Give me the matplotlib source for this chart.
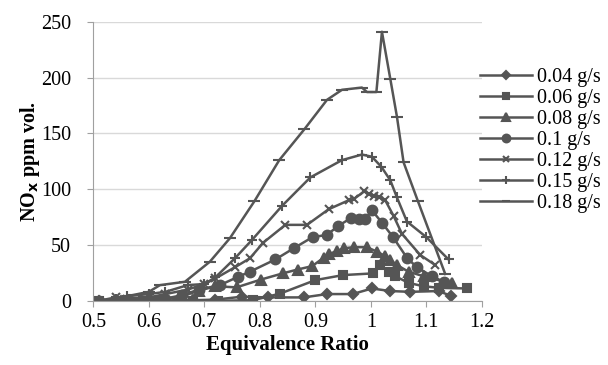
import matplotlib.pyplot as plt

plt.rcParams['font.family'] = ['Liberation Serif', 'DejaVu Serif']

# 0.04 g/s
x004 = [0.51, 0.54, 0.55, 0.56, 0.60, 0.62, 0.65, 0.68, 0.72, 0.767, 0.815, 0.879, 0.921, 0.967, 1.002, 1.035, 1.071, 1.122, 1.144]
y004 = [0, 0, 0, 0, 0, 0, 0, 0.5, 1, 3.6, 3, 3, 6, 6, 11, 8.7, 8, 8.7, 4.5]
# 0.06 g/s
x006 = [0.51, 0.54, 0.55, 0.56, 0.59, 0.61, 0.63, 0.68, 0.725, 0.788, 0.837, 0.90, 0.95, 1.003, 1.017, 1.032, 1.044, 1.068, 1.095, 1.122, 1.173]
y006 = [0, 0, 0, 0, 0, 0, 0, 0, 0, 0.5, 6.5, 18.5, 23, 24.5, 32, 26, 22, 16, 13, 11.6, 11]
# 0.08 g/s
x008 = [0.51, 0.54, 0.56, 0.60, 0.63, 0.66, 0.69, 0.72, 0.758, 0.802, 0.841, 0.868, 0.894, 0.915, 0.925, 0.939, 0.951, 0.969, 0.993, 1.011, 1.026, 1.035, 1.047, 1.068, 1.095, 1.146]
y008 = [0, 0, 0, 0, 1, 4, 9, 13, 12, 19, 24.5, 28, 31, 38.5, 42, 44.5, 47, 48, 48, 44, 40, 36.5, 32, 26, 22, 15.5]
# 0.1 g/s
x010 = [0.51, 0.54, 0.56, 0.60, 0.63, 0.66, 0.69, 0.728, 0.761, 0.782, 0.828, 0.861, 0.895, 0.921, 0.941, 0.964, 0.978, 0.990, 1.002, 1.020, 1.040, 1.065, 1.083, 1.110, 1.131]
y010 = [0, 0, 0.5, 1, 2, 5, 10, 14, 21.5, 26, 37, 47, 57, 59, 67, 74, 73, 73, 81, 70, 57, 38.5, 30, 22, 17]
# 0.12 g/s
x012 = [0.51, 0.54, 0.56, 0.60, 0.63, 0.67, 0.70, 0.72, 0.755, 0.782, 0.806, 0.846, 0.885, 0.924, 0.960, 0.969, 0.988, 0.996, 1.005, 1.014, 1.026, 1.041, 1.056, 1.089, 1.116]
y012 = [0, 3, 2, 3, 6, 10, 15, 20, 30, 38, 52, 68, 68, 82, 90, 91, 98, 96, 94, 93, 90, 76, 60, 41, 32]
# 0.15 g/s
x015 = [0.51, 0.54, 0.56, 0.60, 0.63, 0.67, 0.70, 0.72, 0.755, 0.785, 0.84, 0.891, 0.948, 0.984, 1.002, 1.019, 1.035, 1.047, 1.065, 1.10, 1.14]
y015 = [0, 2, 4, 6, 8, 14, 15, 21, 38, 54, 85, 110.5, 126, 131, 129, 120, 108, 92.6, 71, 57, 37]
# 0.18 g/s
x018 = [0.51, 0.55, 0.57, 0.60, 0.62, 0.665, 0.71, 0.746, 0.79, 0.835, 0.880, 0.921, 0.948, 0.984, 0.993, 1.01, 1.02, 1.035, 1.047, 1.059, 1.085, 1.134]
y018 = [0, 2, 5, 8, 14, 17, 35, 56, 89, 126, 153.5, 180, 189, 191, 187, 187, 241, 199, 165, 124, 89, 24]

labels = ['0.04 g/s', '0.06 g/s', '0.08 g/s', '0.1 g/s', '0.12 g/s', '0.15 g/s', '0.18 g/s']
xs = [x004, x006, x008, x010, x012, x015, x018]
ys = [y004, y006, y008, y010, y012, y015, y018]
markers = ['D', 's', '^', 'o', 'x', '+', '_']
msizes = [5, 6, 6.5, 7, 6, 7, 8]

col = '#555555'
fs = 14.5
fig = plt.figure(figsize=(6.08, 3.65), dpi=100)
ax = fig.add_axes([0.1535, 0.176, 0.639, 0.7645])

for x, y, lab, m, ms in zip(xs, ys, labels, markers, msizes):
    ax.plot(x, y, color=col, lw=1.8, marker=m, ms=ms, mew=1.5, label=lab)

ax.set_xlim(0.5, 1.2)
ax.set_ylim(0, 250)
ax.set_xticks([0.5, 0.6, 0.7, 0.8, 0.9, 1.0, 1.1, 1.2])
ax.set_xticklabels(['0.5', '0.6', '0.7', '0.8', '0.9', '1', '1.1', '1.2'])
ax.set_yticks([0, 50, 100, 150, 200, 250])
ax.yaxis.grid(True, color='#d9d9d9', lw=1)
ax.set_axisbelow(True)
for s in ['top', 'right']:
    ax.spines[s].set_visible(False)
for s in ['left', 'bottom']:
    ax.spines[s].set_color('#a0a0a0')
ax.tick_params(axis='both', labelsize=fs, color='#a0a0a0', length=4)
ax.tick_params(axis='y', pad=12)
ax.tick_params(axis='x', pad=5)
ax.set_xlabel('Equivalence Ratio', fontsize=15, fontweight='bold', labelpad=2)
ax.set_ylabel(r'NO$_\mathbf{x}$ ppm vol.', fontsize=fs, fontweight='bold', labelpad=-1)

ax.legend(loc='upper left', bbox_to_anchor=(0.7895, 0.815), bbox_transform=fig.transFigure,
          frameon=False, fontsize=fs, handlelength=2.6, labelspacing=0.1,
          handletextpad=0.25, borderpad=0, borderaxespad=0, markerscale=0.8)

fig.savefig('out.png', dpi=100)
